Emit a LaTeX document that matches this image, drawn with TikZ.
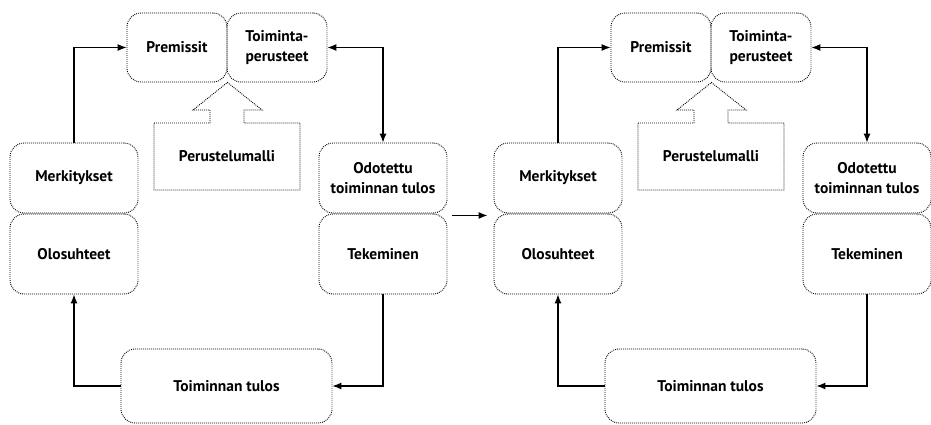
\documentclass[tikz,border=0pt]{standalone}
\usepackage{fontspec}
\setmainfont{PT Sans}
\usetikzlibrary{arrows.meta}

\tikzset{
  phase/.style={draw, dash pattern=on 0.9pt off 1.1pt, line width=0.9pt, rounded corners=14pt,
    inner sep=0pt, align=center, font=\fontsize{15.5}{20}\selectfont\bfseries},
  flow/.style={line width=1.1pt, -{Latex[length=9pt,width=7pt]}},
  twoway/.style={line width=1.1pt, {Latex[length=9pt,width=7pt]}-{Latex[length=9pt,width=7pt]}}
}

\begin{document}
\begin{tikzpicture}[x=1pt, y=-1pt]
    \useasboundingbox (0,0) rectangle (931,424);

    % Left cycle
    \node[phase, minimum width=100pt, minimum height=69pt] (prem) at (177,47.5) {Premissit};
    \node[phase, minimum width=100pt, minimum height=69pt] (toim) at (277,47.5) {Toiminta-\\perusteet};
    \node[phase, minimum width=128pt, minimum height=70pt] (merk) at (74,178) {Merkitykset};
    \node[phase, minimum width=128pt, minimum height=80pt] (olos) at (74,254) {Olosuhteet};
    \node[phase, minimum width=128pt, minimum height=70pt] (odot) at (383,178) {Odotettu\\toiminnan tulos};
    \node[phase, minimum width=128pt, minimum height=80pt] (tek) at (383,254) {Tekeminen};
    \node[phase, minimum width=211pt, minimum height=74pt] (tulos) at (226.5,386) {Toiminnan tulos};

    % Perustelumalli with its arrow
    \draw[dash pattern=on 0.9pt off 1.1pt, line width=0.9pt] (154,123) -- (210,123) -- (210,110) -- (193,110)
        -- (prem.south east) -- (262,110) -- (244,110) -- (244,123) -- (300,123)
        -- (300,190) -- (154,190) -- cycle;
    \node[font=\fontsize{15.5}{20}\selectfont\bfseries] (peru) at (227,156) {Perustelumalli};

    % Connectors
    \draw[flow] (merk.north) |- (prem.west);
    \draw[twoway] (toim.east) -| (odot.north);
    \draw[flow] (tek.south) |- (tulos.east);
    \draw[flow] (tulos.west) -| (olos.south);

    % Right cycle
    \node[phase, minimum width=100pt, minimum height=69pt] (prem2) at (661,47.5) {Premissit};
    \node[phase, minimum width=100pt, minimum height=69pt] (toim2) at (761,47.5) {Toiminta-\\perusteet};
    \node[phase, minimum width=128pt, minimum height=70pt] (merk2) at (558,178) {Merkitykset};
    \node[phase, minimum width=128pt, minimum height=80pt] (olos2) at (558,254) {Olosuhteet};
    \node[phase, minimum width=128pt, minimum height=70pt] (odot2) at (867,178) {Odotettu\\toiminnan tulos};
    \node[phase, minimum width=128pt, minimum height=80pt] (tek2) at (867,254) {Tekeminen};
    \node[phase, minimum width=211pt, minimum height=74pt] (tulos2) at (710.5,386) {Toiminnan tulos};

    % Perustelumalli with its arrow
    \draw[dash pattern=on 0.9pt off 1.1pt, line width=0.9pt] (638,123) -- (694,123) -- (694,110) -- (677,110)
        -- (prem2.south east) -- (746,110) -- (728,110) -- (728,123) -- (784,123)
        -- (784,190) -- (638,190) -- cycle;
    \node[font=\fontsize{15.5}{20}\selectfont\bfseries] (peru2) at (711,156) {Perustelumalli};

    % Connectors
    \draw[flow] (merk2.north) |- (prem2.west);
    \draw[twoway] (toim2.east) -| (odot2.north);
    \draw[flow] (tek2.south) |- (tulos2.east);
    \draw[flow] (tulos2.west) -| (olos2.south);

    % From one cycle to the next
    \draw[flow, shorten <=5pt, shorten >=6pt] ([yshift=-2pt]odot.south east) -- ([yshift=-2pt]merk2.south west);
\end{tikzpicture}
\end{document}
